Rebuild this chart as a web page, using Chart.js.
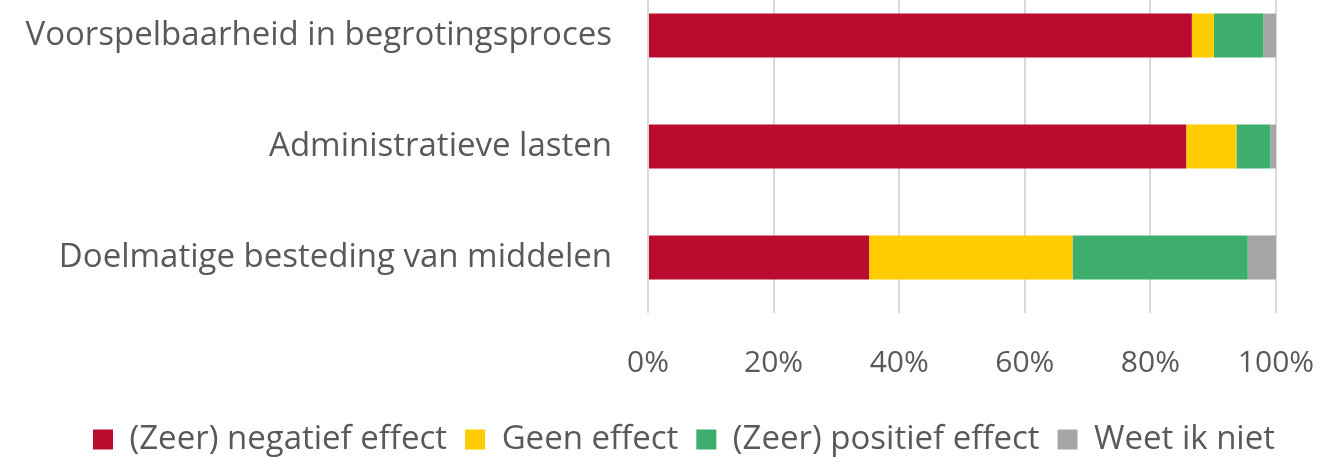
<!DOCTYPE html>
<html lang="nl">
<head>
    <meta charset="UTF-8">
    <title>Effecten</title>
    <script src="https://cdn.jsdelivr.net/npm/chart.js"></script>
    <style>
        html, body { margin: 0; padding: 0; background: #fff; overflow: hidden; }
        #wrap { position: relative; width: 1323px; height: 457px; overflow: hidden; }
        /* the reference is cropped at the top, so the canvas sits a bit higher */
        #myChart { position: absolute; left: 0; top: -20px; }
    </style>
</head>
<body>

<div id="wrap">
    <canvas id="myChart" width="1323" height="486"></canvas>
</div>

<script>
    // categorieen en waarden (percentages)
    var categories = ['Voorspelbaarheid in begrotingsproces', 'Administratieve lasten', 'Doelmatige besteding van middelen'];
    var negatief = [86.6, 85.7, 35.2];
    var geen = [3.5, 8.0, 32.4];
    var positief = [7.9, 5.4, 27.9];
    var weetNiet = [2.0, 0.9, 4.5];
    var seriesNames = ['(Zeer) negatief effect', 'Geen effect', '(Zeer) positief effect', 'Weet ik niet'];
    var tickValues = [0, 20, 40, 60, 80, 100];

    var textColor = '#595959';
    var fontFam = '"Open Sans", "Noto Sans", sans-serif';

    // legenda staat in het origineel iets meer naar rechts
    var shiftLegend = {
        id: 'shiftLegend',
        afterLayout: function(chart) {
            chart.legend.left += 36;
            chart.legend.right += 36;
        }
    };

    var ctx = document.getElementById('myChart').getContext('2d');
    var myChart = new Chart(ctx, {
        type: 'bar',
        data: {
            labels: categories,
            datasets: [
                { label: seriesNames[0], data: negatief, backgroundColor: '#BA0C2F' },
                { label: seriesNames[1], data: geen, backgroundColor: '#FFCC00' },
                { label: seriesNames[2], data: positief, backgroundColor: '#3EAE6F' },
                { label: seriesNames[3], data: weetNiet, backgroundColor: '#A5A5A5' }
            ]
        },
        plugins: [shiftLegend],
        options: {
            indexAxis: 'y',
            responsive: false,
            animation: false,
            datasets: {
                bar: { categoryPercentage: 0.8, barPercentage: 0.494, borderWidth: 0 }
            },
            layout: { padding: { top: 0, right: 47, bottom: 0, left: 20 } },
            scales: {
                x: {
                    stacked: true,
                    min: 0,
                    max: 100,
                    afterBuildTicks: function(scale) {
                        scale.ticks = tickValues.map(function(v) { return { value: v }; });
                    },
                    afterFit: function(scale) {
                        scale.height = 92;
                        scale.paddingLeft = 0;
                        scale.paddingRight = 0;
                    },
                    ticks: {
                        color: textColor,
                        padding: 32,
                        font: { family: fontFam, size: 30 },
                        callback: function(v) { return v + '%'; }
                    },
                    grid: { color: '#D9D9D9', lineWidth: 2, drawTicks: false },
                    border: { display: false }
                },
                y: {
                    stacked: true,
                    afterFit: function(scale) {
                        scale.width = 628;
                        scale.paddingTop = 0;
                        scale.paddingBottom = 0;
                    },
                    ticks: {
                        color: textColor,
                        padding: 36,
                        font: { family: fontFam, size: 33 }
                    },
                    grid: { display: false, drawTicks: false },
                    border: { display: false }
                }
            },
            plugins: {
                tooltip: { enabled: false },
                legend: {
                    position: 'bottom',
                    labels: {
                        color: textColor,
                        font: { family: fontFam, size: 33 },
                        boxWidth: 20,
                        boxHeight: 20,
                        padding: 18
                    }
                }
            }
        }
    });
</script>

</body>
</html>
